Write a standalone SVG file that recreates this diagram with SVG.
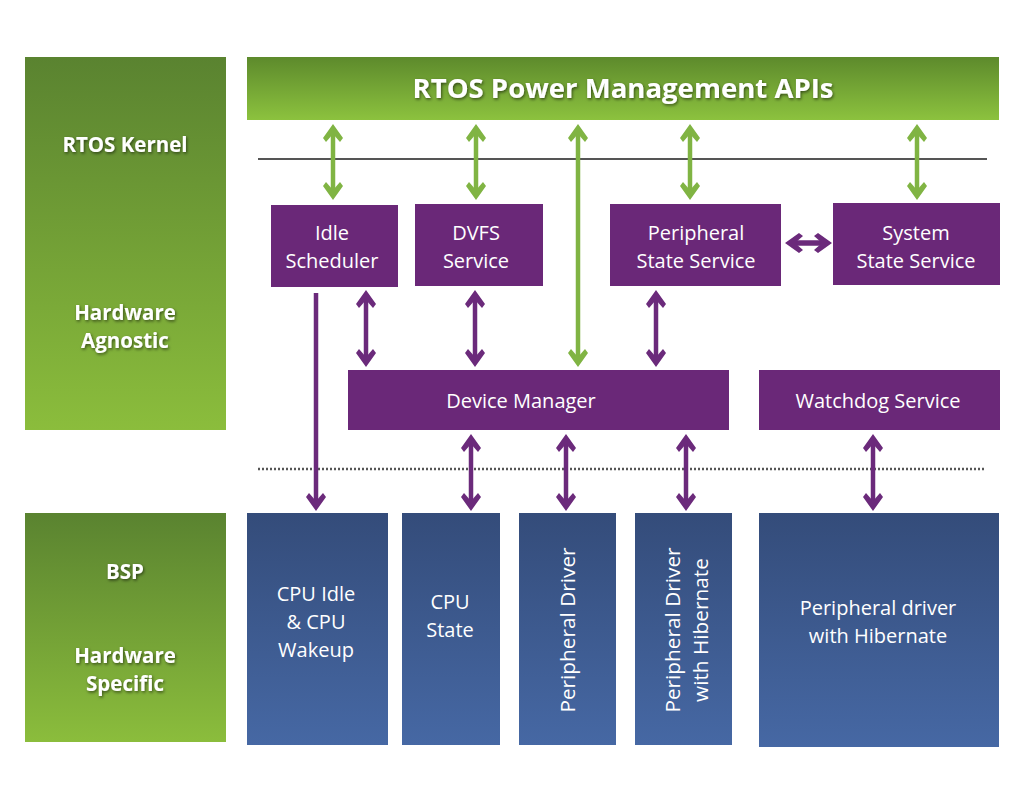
<svg xmlns="http://www.w3.org/2000/svg" width="1024" height="791" viewBox="0 0 1024 791">
<defs>
<linearGradient id="gSide" x1="0" y1="0" x2="0" y2="1"><stop offset="0" stop-color="#5a8330"/><stop offset="1" stop-color="#8bbd3c"/></linearGradient>
<linearGradient id="gBanner" x1="0" y1="0" x2="0" y2="1"><stop offset="0" stop-color="#5d8a2c"/><stop offset="1" stop-color="#8cc23e"/></linearGradient>
<linearGradient id="gBlue" x1="0" y1="0" x2="0" y2="1"><stop offset="0" stop-color="#344c7a"/><stop offset="1" stop-color="#4668a4"/></linearGradient>
<filter id="sh" x="-10%" y="-30%" width="120%" height="160%"><feDropShadow dx="1" dy="1.5" stdDeviation="1.5" flood-color="#000" flood-opacity="0.55"/></filter>
<marker id="hg" viewBox="0 0 18 20" refX="14" refY="10" markerWidth="18" markerHeight="20" markerUnits="userSpaceOnUse" orient="auto-start-reverse"><path d="M18,10 L4,0 L0,3 L8,10 L0,17 L4,20 z" fill="#80b443"/></marker>
<marker id="hp" viewBox="0 0 18 20" refX="14" refY="10" markerWidth="18" markerHeight="20" markerUnits="userSpaceOnUse" orient="auto-start-reverse"><path d="M18,10 L4,0 L0,3 L8,10 L0,17 L4,20 z" fill="#6b2a7b"/></marker>
</defs>
<style>
.side{fill:url(#gSide)}
.pur{fill:#6a2878}
.blue{fill:url(#gBlue)}
.t{font-family:"Open Sans","Noto Sans",sans-serif;font-size:20px;fill:#fff;text-anchor:middle}
.r{font-size:20.8px}
.b{font-family:"Open Sans","Noto Sans",sans-serif;font-size:20.5px;font-weight:bold;fill:#fff;text-anchor:middle;filter:url(#sh)}
.agd{stroke:#80b443;stroke-width:4.5;fill:none;marker-end:url(#hg);marker-start:url(#hg)}
.ap{stroke:#6b2a7b;stroke-width:4.5;fill:none;marker-end:url(#hp)}
.apd{stroke:#6b2a7b;stroke-width:4.5;fill:none;marker-end:url(#hp);marker-start:url(#hp)}
</style>
<rect width="1024" height="791" fill="#fff"/>

<g id="side-kernel"><rect class="side" x="25" y="57" width="201" height="373"/>
<text class="b" x="125" y="152">RTOS Kernel</text>
<text class="b" x="125" y="320">Hardware</text><text class="b" x="125" y="348">Agnostic</text></g>
<g id="side-bsp"><rect class="side" x="25" y="513" width="201" height="229"/>
<text class="b" x="125" y="579">BSP</text>
<text class="b" x="125" y="663">Hardware</text><text class="b" x="125" y="691">Specific</text></g>

<g id="banner"><rect x="247" y="57" width="752" height="63" fill="url(#gBanner)"/>
<text class="b" x="623" y="98" style="font-size:26px" textLength="421" lengthAdjust="spacingAndGlyphs">RTOS Power Management APIs</text></g>

<g id="separators">
<line x1="258" y1="159" x2="987" y2="159" stroke="#555" stroke-width="2"/>
<line x1="258" y1="469" x2="985" y2="469" stroke="#555" stroke-width="2.5" stroke-dasharray="2 2"/>
</g>

<g id="idle"><rect class="pur" x="271" y="205" width="127" height="82"/><text class="t" x="332" y="240">Idle</text><text class="t" x="332" y="268">Scheduler</text></g>
<g id="dvfs"><rect class="pur" x="415" y="204" width="128" height="82"/><text class="t" x="476" y="240">DVFS</text><text class="t" x="476" y="268">Service</text></g>
<g id="pss"><rect class="pur" x="610" y="204" width="171" height="82"/><text class="t" x="696" y="240">Peripheral</text><text class="t" x="696" y="268">State Service</text></g>
<g id="sss"><rect class="pur" x="833" y="203" width="167" height="82"/><text class="t" x="916" y="240">System</text><text class="t" x="916" y="268">State Service</text></g>
<g id="devmgr"><rect class="pur" x="348" y="370" width="381" height="60"/><text class="t" x="521" y="408">Device Manager</text></g>
<g id="watchdog"><rect class="pur" x="759" y="370" width="241" height="60"/><text class="t" x="878" y="408">Watchdog Service</text></g>

<g id="cpuidle"><rect class="blue" x="247" y="513" width="141" height="232"/><text class="t" x="316" y="601">CPU Idle</text><text class="t" x="316" y="629">&amp; CPU</text><text class="t" x="316" y="657">Wakeup</text></g>
<g id="cpustate"><rect class="blue" x="402" y="513" width="98" height="232"/><text class="t" x="450" y="609">CPU</text><text class="t" x="450" y="637">State</text></g>
<g id="pdrv"><rect class="blue" x="519" y="513" width="97" height="232"/><text class="t r" transform="translate(575,630) rotate(-90)">Peripheral Driver</text></g>
<g id="pdrvh"><rect class="blue" x="635" y="513" width="97" height="232"/><text class="t r" transform="translate(680,630) rotate(-90)">Peripheral Driver</text><text class="t r" transform="translate(708,630) rotate(-90)">with Hibernate</text></g>
<g id="pdrvh2"><rect class="blue" x="759" y="513" width="240" height="234"/><text class="t" x="878" y="615">Peripheral driver</text><text class="t" x="878" y="643">with Hibernate</text></g>

<g id="connectors">
<line class="agd" x1="333" y1="128" x2="333" y2="196"/>
<line class="agd" x1="476" y1="128" x2="476" y2="196"/>
<line class="agd" x1="690" y1="128" x2="690" y2="196"/>
<line class="agd" x1="917" y1="128" x2="917" y2="196"/>
<line class="agd" x1="578" y1="128" x2="578" y2="363"/>
<line class="apd" x1="789" y1="243" x2="828" y2="243" style="stroke-width:5.5"/>
<line class="ap" x1="316" y1="293" x2="316" y2="507"/>
<line class="apd" x1="366" y1="294" x2="366" y2="363"/>
<line class="apd" x1="475" y1="294" x2="475" y2="363"/>
<line class="apd" x1="656" y1="294" x2="656" y2="363"/>
<line class="apd" x1="471" y1="438" x2="471" y2="507"/>
<line class="apd" x1="566" y1="438" x2="566" y2="507"/>
<line class="apd" x1="686" y1="438" x2="686" y2="507"/>
<line class="apd" x1="873" y1="438" x2="873" y2="507"/>
</g>
</svg>
